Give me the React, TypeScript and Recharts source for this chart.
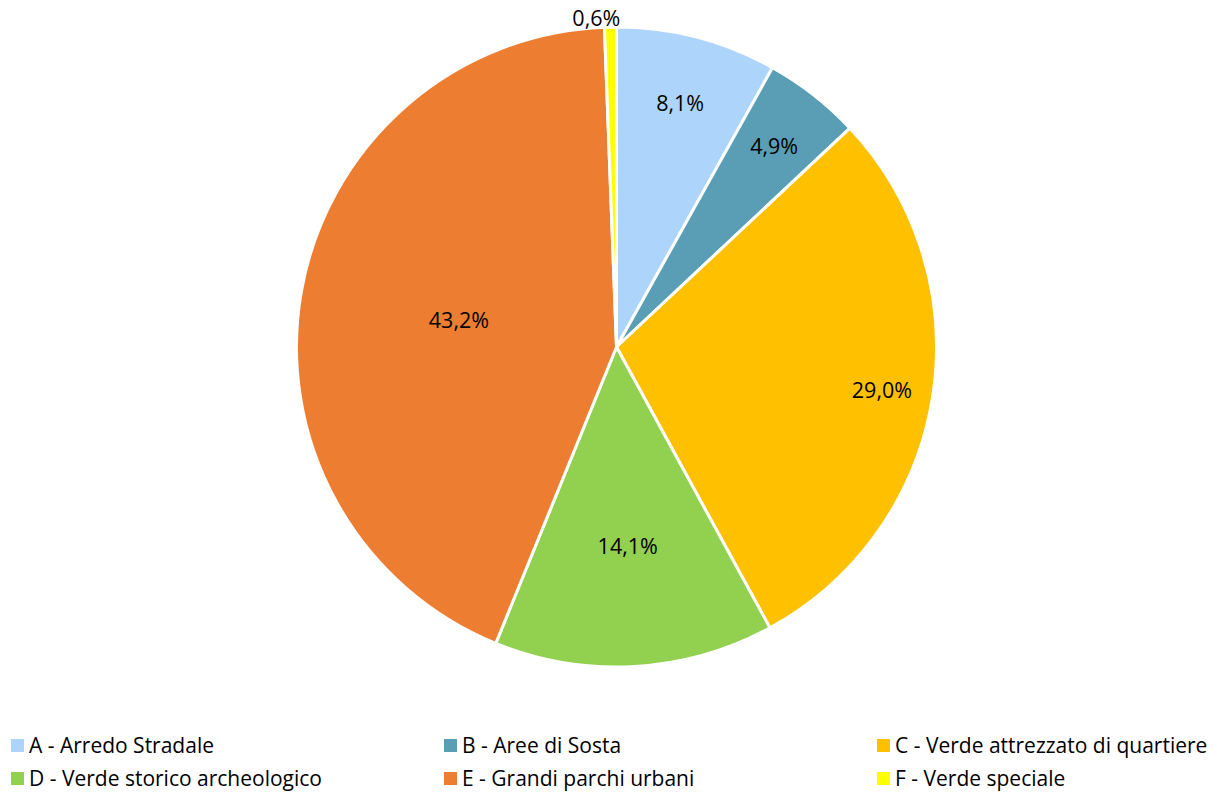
import { PieChart, Pie, Cell, Legend } from "recharts"

const CATEGORIES = [
  "A - Arredo Stradale",
  "B - Aree di Sosta",
  "C - Verde attrezzato di quartiere",
  "D - Verde storico archeologico",
  "E - Grandi parchi urbani",
  "F - Verde speciale",
]
const SHARES = [8.1, 4.9, 29.0, 14.1, 43.2, 0.6]

const COLORS = ["#ADD5FB", "#5A9EB6", "#FFC000", "#92D050", "#ED7D31", "#FFFF00"]
// label distance from centre, as a fraction of the radius (Excel best fit)
const LABEL_POS = [0.79, 0.8, 0.84, 0.62, 0.5, 1.03]

const FONT = "'Open Sans', Lato, sans-serif"
const RAD = Math.PI / 180

const data = CATEGORIES.map((name, i) => ({ name, value: SHARES[i] }))

const fmt = (v: number) => v.toFixed(1).replace(".", ",") + "%"

function renderLabel(props: any) {
  const { cx, cy, midAngle, outerRadius, index, value } = props
  const r = outerRadius * LABEL_POS[index]
  const x = cx + r * Math.cos(-midAngle * RAD)
  const y = cy + r * Math.sin(-midAngle * RAD)
  const outside = LABEL_POS[index] > 1
  return (
    <text
      x={outside ? x + 10 : x}
      y={y}
      textAnchor={outside ? "end" : "middle"}
      dominantBaseline="central"
      fill="#000"
      fontSize={21.5}
      fontFamily={FONT}
    >
      {fmt(value)}
    </text>
  )
}

function LegendGrid() {
  const colX = [11, 444, 877]
  return (
    <div style={{ position: "relative", width: 1213, height: 60 }}>
      {CATEGORIES.map((name, i) => (
        <div
          key={name}
          style={{
            position: "absolute",
            left: colX[i % 3],
            top: i < 3 ? 0 : 33,
            display: "flex",
            alignItems: "center",
            fontFamily: FONT,
            fontSize: 21,
            color: "#000",
            whiteSpace: "nowrap",
            lineHeight: "24px",
          }}
        >
          <span
            style={{
              display: "inline-block",
              width: 13,
              height: 13,
              background: COLORS[i],
              marginRight: 5,
            }}
          />
          {name}
        </div>
      ))}
    </div>
  )
}

export default function App() {
  return (
    <div style={{ position: "absolute", left: 0, top: 0, background: "#fff" }}>
      <PieChart width={1213} height={792} margin={{ top: 0, right: 0, bottom: 0, left: 0 }}>
        <Pie
          data={data}
          dataKey="value"
          nameKey="name"
          cx={616.5}
          cy={347}
          outerRadius={320}
          startAngle={90}
          endAngle={-270}
          stroke="#fff"
          strokeWidth={3}
          label={renderLabel}
          labelLine={false}
          isAnimationActive={false}
        >
          {data.map((_, i) => (
            <Cell key={i} fill={COLORS[i]} />
          ))}
        </Pie>
        <Legend
          content={() => <LegendGrid />}
          wrapperStyle={{ left: 0, top: 733, width: 1213 }}
        />
      </PieChart>
    </div>
  )
}
